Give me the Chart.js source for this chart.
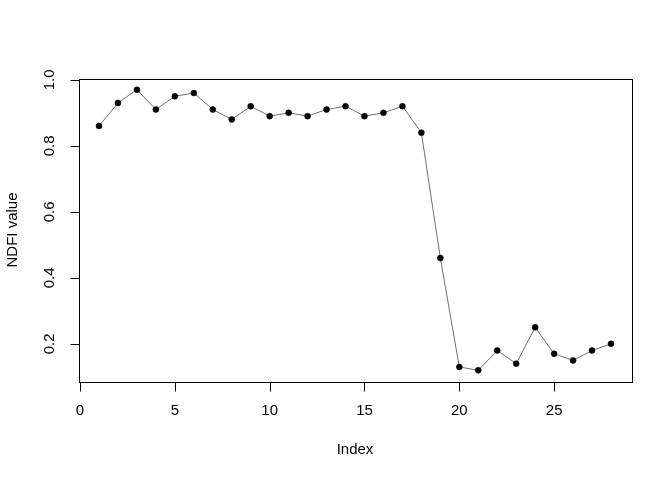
<!DOCTYPE html>
<html>
<head>
  <meta charset="utf-8">
  <title>NDFI value by index</title>
  <script src="https://cdn.jsdelivr.net/npm/chart.js"></script>
  <style>
    body { margin: 0; padding: 0; background: #ffffff; }
    #wrap { width: 672px; height: 480px; }
  </style>
</head>
<body>
  <div id="wrap"><canvas id="myChart" width="672" height="480"></canvas></div>

  <script>
    // data
    const indexValues = [1, 2, 3, 4, 5, 6, 7, 8, 9, 10, 11, 12, 13, 14, 15, 16, 17, 18, 19, 20, 21, 22, 23, 24, 25, 26, 27, 28];
    const ndfiValues = [0.86, 0.93, 0.97, 0.91, 0.95, 0.96, 0.91, 0.88, 0.92, 0.89, 0.90, 0.89, 0.91, 0.92,
                        0.89, 0.90, 0.92, 0.84, 0.46, 0.13, 0.12, 0.18, 0.14, 0.25, 0.17, 0.15, 0.18, 0.20];
    const xTicks = [0, 5, 10, 15, 20, 25];
    const yTicks = [0.2, 0.4, 0.6, 0.8, 1.0];
    const xTitle = 'Index';
    const yTitle = 'NDFI value';

    const FONT = '15px "Liberation Sans", Arial, sans-serif';

    // R style box + axes drawn off the chart's own scales
    const rAxes = {
      id: 'rAxes',
      afterDraw(chart) {
        const { ctx, chartArea: a, scales } = chart;
        const xs = scales.x, ys = scales.y;
        ctx.save();
        ctx.strokeStyle = '#000';
        ctx.lineWidth = 1;
        ctx.strokeRect(Math.round(a.left) + 0.5, Math.round(a.top) + 0.5,
                       Math.round(a.right - a.left), Math.round(a.bottom - a.top));

        ctx.fillStyle = '#000';
        ctx.font = FONT;
        const tick = 9;

        // x axis
        const yb = Math.round(a.bottom) + 0.5;
        ctx.beginPath();
        ctx.moveTo(xs.getPixelForValue(xTicks[0]), yb);
        ctx.lineTo(xs.getPixelForValue(xTicks[xTicks.length - 1]), yb);
        xTicks.forEach(v => {
          const px = Math.round(xs.getPixelForValue(v)) + 0.5;
          ctx.moveTo(px, yb);
          ctx.lineTo(px, yb + tick);
        });
        ctx.stroke();
        ctx.textAlign = 'center';
        ctx.textBaseline = 'middle';
        xTicks.forEach(v => ctx.fillText(String(v), xs.getPixelForValue(v), 411));
        ctx.fillText(xTitle, (a.left + a.right) / 2, 450);

        // y axis
        const xl = Math.round(a.left) + 0.5;
        ctx.beginPath();
        ctx.moveTo(xl, ys.getPixelForValue(yTicks[0]));
        ctx.lineTo(xl, ys.getPixelForValue(yTicks[yTicks.length - 1]));
        yTicks.forEach(v => {
          const py = Math.round(ys.getPixelForValue(v)) + 0.5;
          ctx.moveTo(xl, py);
          ctx.lineTo(xl - tick, py);
        });
        ctx.stroke();
        yTicks.forEach(v => {
          ctx.save();
          ctx.translate(50, ys.getPixelForValue(v));
          ctx.rotate(-Math.PI / 2);
          ctx.fillText(v.toFixed(1), 0, 0);
          ctx.restore();
        });
        ctx.save();
        ctx.translate(13, (a.top + a.bottom) / 2);
        ctx.rotate(-Math.PI / 2);
        ctx.fillText(yTitle, 0, 0);
        ctx.restore();

        ctx.restore();
      }
    };

    const ctx = document.getElementById('myChart').getContext('2d');
    const chart = new Chart(ctx, {
      type: 'scatter',
      data: {
        datasets: [{
          data: indexValues.map((x, i) => ({ x: x, y: ndfiValues[i] })),
          showLine: true,
          borderColor: '#707070',
          borderWidth: 1,
          pointRadius: 3,
          pointBackgroundColor: '#000',
          pointBorderColor: '#000',
          pointBorderWidth: 0.5
        }]
      },
      options: {
        responsive: false,
        animation: false,
        layout: { padding: { left: 78.5, right: 40.5, top: 78.5, bottom: 98.5 } },
        scales: {
          x: { type: 'linear', min: -0.08, max: 29.08, display: false },
          y: { type: 'linear', min: 0.086, max: 1.004, display: false }
        },
        plugins: {
          legend: { display: false },
          tooltip: { enabled: false }
        }
      },
      plugins: [rAxes]
    });
  </script>
</body>
</html>
